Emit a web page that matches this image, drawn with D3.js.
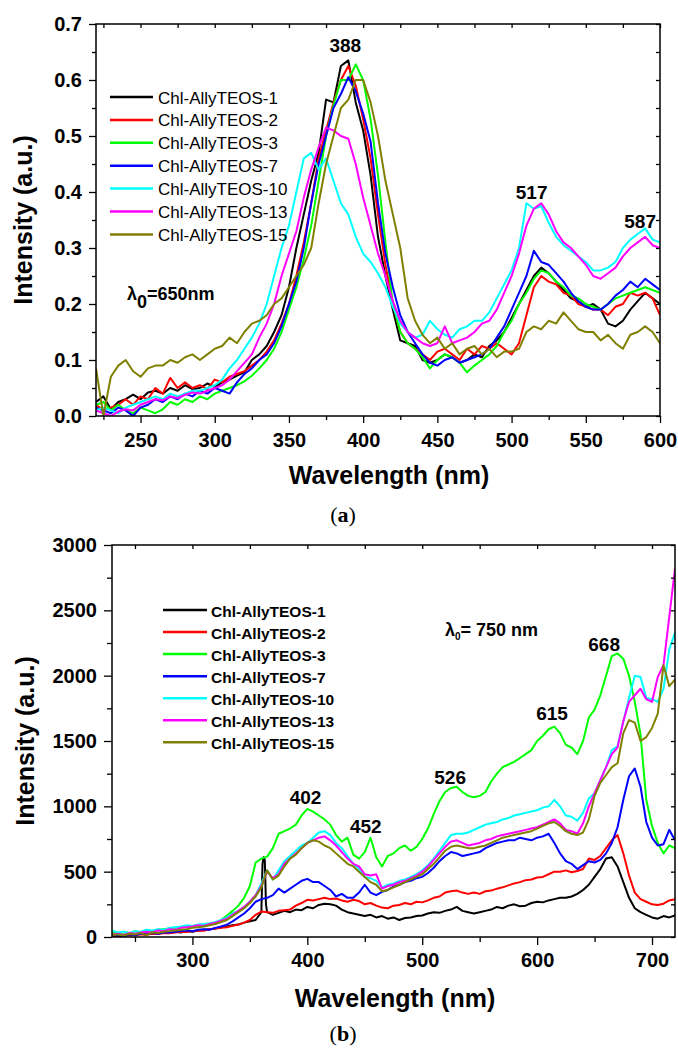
<!DOCTYPE html>
<html>
<head>
<meta charset="utf-8">
<script src="https://cdn.jsdelivr.net/npm/d3@7/dist/d3.min.js"></script>
<style>
  body { margin: 0; background: #fff; }
  svg { display: block; }
  text { font-family: "Liberation Sans", Arial, sans-serif; }
</style>
</head>
<body>
<svg id="chart" width="678" height="1048"></svg>
<script>
// =======================
// Data
// =======================
const seriesNames = ["Chl-AllyTEOS-1", "Chl-AllyTEOS-2", "Chl-AllyTEOS-3", "Chl-AllyTEOS-7",
  "Chl-AllyTEOS-10", "Chl-AllyTEOS-13", "Chl-AllyTEOS-15"];
const seriesColors = ["#000000", "#ff0000", "#00ff00", "#0000ff", "#00ffff", "#ff00ff", "#808000"];

// ---- panel (a), excitation 650 nm ----
const wavelengthA = [
  220, 225, 230, 235, 240, 245, 250, 255, 260, 265,
  270, 275, 280, 285, 290, 295, 300, 305, 310, 315,
  320, 325, 330, 335, 340, 345, 350, 355, 360, 365,
  370, 375, 380, 385, 390, 395, 400, 405, 410, 415,
  420, 425, 430, 435, 440, 445, 450, 455, 460, 465,
  470, 475, 480, 485, 490, 495, 500, 505, 510, 515,
  520, 525, 530, 535, 540, 545, 550, 555, 560, 565,
  570, 575, 580, 585, 590, 595, 600
];
const blackA = [
  0.025, 0.035, 0.012, 0.025, 0.03, 0.038, 0.03, 0.042, 0.045, 0.04,
  0.05, 0.045, 0.055, 0.048, 0.05, 0.058, 0.052, 0.06, 0.065, 0.072,
  0.078, 0.1, 0.11, 0.125, 0.15, 0.18, 0.23, 0.3, 0.36, 0.42,
  0.47, 0.565, 0.56, 0.625, 0.635, 0.56, 0.51, 0.43, 0.32, 0.25,
  0.19, 0.135, 0.13, 0.125, 0.1, 0.095, 0.1, 0.11, 0.105, 0.095,
  0.1, 0.11, 0.105, 0.125, 0.135, 0.15, 0.175, 0.2, 0.225, 0.25,
  0.265, 0.255, 0.24, 0.225, 0.21, 0.205, 0.195, 0.2, 0.19, 0.165,
  0.16, 0.17, 0.19, 0.205, 0.22, 0.21, 0.2
];
const redA = [
  0.02, 0.01, 0.015, 0.02, 0.03, 0.02, 0.035, 0.03, 0.05, 0.04,
  0.068, 0.05, 0.06, 0.05, 0.055, 0.048, 0.065, 0.06, 0.07, 0.075,
  0.08, 0.09, 0.1, 0.115, 0.135, 0.165, 0.2, 0.25, 0.31, 0.38,
  0.46, 0.51, 0.56, 0.6, 0.625, 0.59, 0.53, 0.46, 0.36, 0.27,
  0.2, 0.15, 0.13, 0.12, 0.11, 0.1, 0.115, 0.12, 0.11, 0.1,
  0.12, 0.11, 0.125, 0.12, 0.13, 0.12, 0.11, 0.13, 0.18, 0.23,
  0.25, 0.24, 0.235, 0.22, 0.215, 0.2, 0.195, 0.19, 0.19, 0.18,
  0.195, 0.2, 0.22, 0.215, 0.22, 0.21, 0.18
];
const greenA = [
  0.02, 0.025, 0.01, 0.02, 0.01, 0.005, 0.015, 0.01, 0.005, 0.012,
  0.025, 0.02, 0.03, 0.025, 0.035, 0.03, 0.04, 0.045, 0.05, 0.055,
  0.062, 0.072, 0.085, 0.1, 0.12, 0.15, 0.19, 0.23, 0.28, 0.34,
  0.42, 0.5, 0.555, 0.6, 0.6, 0.628, 0.6, 0.53, 0.43, 0.31,
  0.2, 0.15, 0.13, 0.12, 0.105, 0.085, 0.1, 0.11, 0.105, 0.095,
  0.078, 0.09, 0.1, 0.11, 0.125, 0.15, 0.17, 0.2, 0.22, 0.245,
  0.26, 0.255, 0.24, 0.23, 0.215, 0.21, 0.2, 0.195, 0.19, 0.2,
  0.21, 0.215, 0.22, 0.225, 0.23, 0.225, 0.22
];
const blueA = [
  0.015, 0.01, 0.005, 0.015, 0.01, 0.0, 0.015, 0.02, 0.03, 0.025,
  0.035, 0.03, 0.04, 0.035, 0.045, 0.04, 0.05, 0.045, 0.04, 0.06,
  0.075, 0.085, 0.1, 0.11, 0.13, 0.16, 0.2, 0.24, 0.3, 0.38,
  0.45, 0.5, 0.55, 0.575, 0.605, 0.58, 0.54, 0.49, 0.38, 0.29,
  0.23, 0.18, 0.15, 0.13, 0.11, 0.095, 0.09, 0.1, 0.105, 0.095,
  0.1, 0.105, 0.11, 0.12, 0.14, 0.16, 0.19, 0.22, 0.25, 0.295,
  0.275, 0.27, 0.255, 0.24, 0.22, 0.205, 0.195, 0.19, 0.19, 0.2,
  0.215, 0.225, 0.24, 0.23, 0.245, 0.235, 0.225
];
const cyanA = [
  0.01, 0.015, 0.01, 0.005, 0.015, 0.02, 0.025, 0.03, 0.035, 0.03,
  0.04, 0.035, 0.04, 0.045, 0.045, 0.05, 0.055, 0.065, 0.085, 0.1,
  0.12, 0.14, 0.165, 0.2, 0.25, 0.3, 0.34, 0.4, 0.46, 0.47,
  0.44, 0.46, 0.42, 0.38, 0.36, 0.32, 0.29, 0.275, 0.255, 0.23,
  0.195, 0.165, 0.15, 0.14, 0.145, 0.17, 0.155, 0.145, 0.14, 0.155,
  0.16, 0.17, 0.17, 0.185, 0.21, 0.235, 0.26, 0.3, 0.38, 0.37,
  0.375, 0.345, 0.32, 0.305, 0.295, 0.285, 0.275, 0.26, 0.26, 0.265,
  0.275, 0.3, 0.315, 0.325, 0.335, 0.315, 0.31
];
const magentaA = [
  0.01, 0.005, 0.0, 0.008, 0.012, 0.01, 0.02, 0.025, 0.03, 0.028,
  0.035, 0.032, 0.038, 0.042, 0.04, 0.045, 0.05, 0.055, 0.065, 0.08,
  0.095, 0.11, 0.14, 0.165, 0.2, 0.25, 0.29, 0.33, 0.39, 0.44,
  0.48, 0.515, 0.51, 0.5, 0.495, 0.45, 0.39, 0.34, 0.29, 0.25,
  0.205, 0.17, 0.15, 0.14, 0.13, 0.125, 0.13, 0.16, 0.13, 0.135,
  0.14, 0.15, 0.165, 0.17, 0.19, 0.22, 0.25, 0.29, 0.34, 0.37,
  0.38, 0.36, 0.33, 0.31, 0.3, 0.285, 0.27, 0.25, 0.245, 0.255,
  0.265, 0.285, 0.3, 0.31, 0.32, 0.305, 0.3
];
const oliveA = [
  0.085, 0.0, 0.07, 0.09, 0.1, 0.08, 0.07, 0.085, 0.09, 0.09,
  0.1, 0.095, 0.105, 0.11, 0.1, 0.11, 0.12, 0.125, 0.14, 0.13,
  0.15, 0.165, 0.17, 0.18, 0.2, 0.21, 0.23, 0.25, 0.27, 0.3,
  0.38, 0.45, 0.5, 0.55, 0.565, 0.6, 0.6, 0.56, 0.5, 0.42,
  0.36, 0.3, 0.21, 0.17, 0.145, 0.13, 0.14, 0.12, 0.13, 0.11,
  0.12, 0.125, 0.11, 0.12, 0.105, 0.115, 0.115, 0.12, 0.15, 0.16,
  0.155, 0.17, 0.165, 0.185, 0.17, 0.155, 0.15, 0.15, 0.135, 0.145,
  0.13, 0.12, 0.145, 0.15, 0.16, 0.15, 0.13
];
const xTicksA = [250, 300, 350, 400, 450, 500, 550, 600];
const xMinorA = [225, 275, 325, 375, 425, 475, 525, 575];
const yTicksA = [0, 0.1, 0.2, 0.3, 0.4, 0.5, 0.6, 0.7];
const yMinorA = [0.05, 0.15, 0.25, 0.35, 0.45, 0.55, 0.65];
const peakLabelsA = ["388", "517", "587"];

// ---- panel (b), excitation 750 nm ----
const wavelengthB = [
  230, 235, 240, 245, 250, 255, 260, 265, 270, 275,
  280, 285, 290, 295, 300, 305, 310, 315, 320, 325,
  330, 335, 340, 345, 350, 355, 360, 365, 370, 375,
  380, 385, 390, 395, 400, 405, 410, 415, 420, 425,
  430, 435, 440, 445, 450, 455, 460, 465, 470, 475,
  480, 485, 490, 495, 500, 505, 510, 515, 520, 525,
  530, 535, 540, 545, 550, 555, 560, 565, 570, 575,
  580, 585, 590, 595, 600, 605, 610, 615, 620, 625,
  630, 635, 640, 645, 650, 655, 660, 665, 670, 675,
  680, 685, 690, 695, 700, 705, 710, 715, 720
];
const blackB = [
  10, 15, 5, 20, 15, 25, 20, 30, 25, 35,
  30, 40, 35, 45, 40, 50, 55, 60, 65, 75,
  80, 90, 95, 110, 120, 130, 190, 190, 170, 185,
  200, 190, 210, 205, 230, 220, 245, 255, 250, 240,
  210, 190, 180, 170, 160, 170, 150, 160, 140, 150,
  130, 145, 150, 160, 165, 180, 190, 185, 200, 210,
  230, 200, 190, 180, 190, 200, 210, 230, 220, 240,
  250, 235, 240, 260, 270, 265, 280, 290, 300, 300,
  310, 330, 360, 400, 460, 520, 600, 610, 540, 420,
  300, 220, 190, 170, 150, 140, 160, 150, 165
];
// narrow spike of sample 1 near 362 nm
const spikeWavelengthB = [361, 362, 363, 364];
const spikeBlackB = [560, 610, 590, 250];
const redB = [
  5, 10, 8, 15, 12, 20, 18, 25, 22, 30,
  28, 35, 40, 38, 45, 50, 48, 60, 65, 70,
  75, 85, 95, 110, 130, 170, 195, 190, 185, 200,
  205, 210, 240, 260, 285, 280, 290, 300, 290, 295,
  280, 270, 285, 275, 250, 260, 240, 225, 220, 240,
  245, 260, 250, 270, 265, 280, 300, 310, 340, 350,
  355, 340, 330, 340, 330, 350, 355, 370, 380, 395,
  410, 420, 435, 440, 455, 460, 480, 500, 500, 510,
  495, 505, 520, 600, 590, 620, 680, 740, 780, 640,
  470, 340, 290, 270, 250, 245, 255, 280, 290
];
const greenB = [
  40, 20, 35, 30, 45, 35, 50, 45, 55, 60,
  65, 70, 75, 80, 85, 90, 95, 100, 105, 130,
  165, 200, 240, 300, 390, 570, 600, 615, 680, 790,
  810, 830, 860, 930, 980, 960, 930, 900, 860, 780,
  730, 760, 630, 600, 650, 760, 610, 540, 620, 640,
  680, 700, 660, 690, 750, 830, 940, 1040, 1110, 1140,
  1150, 1110, 1080, 1070, 1080, 1110, 1190, 1250, 1300, 1320,
  1340, 1370, 1400, 1430, 1500, 1540, 1590, 1610, 1560, 1470,
  1450, 1400, 1500, 1680, 1740, 1850, 2000, 2150, 2170, 2130,
  2000, 1800, 1550, 1050, 850, 720, 640, 700, 680
];
const blueB = [
  10, 15, 5, 20, 15, 25, 20, 30, 25, 35,
  35, 40, 45, 50, 45, 55, 60, 55, 70, 80,
  95, 120, 150, 180, 220, 270, 290, 300, 320, 370,
  340, 370, 400, 430, 445, 420, 420, 390, 360, 310,
  330, 300, 300, 340, 400, 340, 320, 345, 360, 385,
  400, 420, 430, 450, 460, 490, 530, 580, 620, 650,
  640, 620, 630, 640, 650, 680, 700, 720, 730, 740,
  740, 760, 750, 740, 760, 770, 790, 720, 640, 580,
  560, 520, 550, 580, 570, 590, 640, 720, 840, 1050,
  1230, 1290, 1150, 880, 760, 700, 710, 820, 740
];
const cyanB = [
  50, 35, 40, 30, 45, 40, 55, 50, 60, 55,
  70, 75, 80, 90, 85, 95, 100, 105, 115, 130,
  150, 180, 200, 230, 270, 320, 410, 510, 440, 510,
  580, 620, 660, 700, 720, 760, 800, 810, 780, 720,
  680, 620, 560, 520, 460, 450, 430, 380, 400, 410,
  430, 440, 460, 480, 510, 550, 600, 660, 720, 780,
  790, 790, 800, 820, 840, 860, 870, 880, 900, 910,
  930, 940, 950, 960, 970, 990, 1000, 1050, 1000, 930,
  920, 890, 950, 1060, 1100, 1200, 1300, 1430, 1460, 1650,
  1830, 2000, 1990, 1830, 1820, 1800, 1900, 2200, 2330
];
const magentaB = [
  20, 25, 15, 30, 25, 35, 40, 35, 50, 45,
  60, 55, 70, 75, 80, 90, 85, 100, 110, 125,
  140, 170, 200, 230, 270, 320, 390, 500, 450, 480,
  560, 600, 640, 680, 720, 740, 760, 770, 740, 700,
  650, 600, 560, 540, 480, 470, 480, 370, 390, 400,
  420, 430, 450, 470, 500, 540, 590, 640, 690, 730,
  740, 720, 700, 710, 720, 740, 750, 770, 780, 790,
  800, 810, 820, 830, 840, 860, 880, 900, 870, 820,
  810, 790, 870, 1000, 1100, 1200, 1300, 1400, 1450, 1650,
  1800, 1850, 1900, 1820, 1800, 1990, 2080, 2450, 2820
];
const oliveB = [
  15, 20, 10, 25, 20, 30, 15, 35, 30, 40,
  45, 50, 55, 60, 70, 75, 80, 90, 100, 115,
  130, 160, 190, 220, 260, 310, 380, 510, 440, 470,
  540, 600, 630, 680, 720, 740, 730, 700, 680, 640,
  600, 560, 540, 500, 460, 420, 400, 350, 360, 380,
  400, 420, 440, 460, 480, 520, 560, 610, 660, 690,
  700, 690, 680, 680, 690, 700, 720, 740, 760, 770,
  780, 790, 800, 810, 830, 850, 870, 880, 850, 810,
  790, 780, 800, 900, 1080, 1180, 1240, 1300, 1330, 1560,
  1660, 1640, 1500, 1530, 1600, 1710, 2080, 1920, 1970
];
const xTicksB = [300, 400, 500, 600, 700];
const xMinorB = [250, 350, 450, 550, 650];
const yTicksB = [0, 500, 1000, 1500, 2000, 2500, 3000];
const yMinorB = [250, 750, 1250, 1750, 2250, 2750];
const peakLabelsB = ["402", "452", "526", "615", "668"];

// =======================
// Setup
// =======================
const svg = d3.select("#chart");
const FONT = '"Liberation Sans", Arial, sans-serif';

const panels = [
  {
    id: "a",
    left: 96, right: 660, top: 24, bottom: 416,
    xDomain: [220, 600], yDomain: [0, 0.7],
    wl: wavelengthA,
    series: [blackA, redA, greenA, blueA, cyanA, magentaA, oliveA],
    extra: [],
    xTicks: xTicksA, xMinor: xMinorA, yTicks: yTicksA, yMinor: yMinorA,
    yFormat: d3.format(".1f"),
    majorLen: 7, minorLen: 4, xPad: 10, yPad: 7,
    xTitle: { x: 389, y: 484 },
    yTitle: { x: 32, y: 220 },
    panelLabel: { text: "a", x: 343, y: 522 },
    legend: { x1: 110, x2: 153, tx: 158, y0: 97, dy: 22.9, size: 17, weight: "normal" },
    peaks: peakLabelsA,
    // label anchor, in data units
    peakPos: [[388, 0.65], [513.5, 0.388], [586.6, 0.336]],
    lambda: { x: 127, y: 300, rest: "=650nm", subSize: 18, subDy: 8, size: 18 }
  },
  {
    id: "b",
    left: 112, right: 675, top: 545, bottom: 937,
    xDomain: [230, 720], yDomain: [0, 3000],
    wl: wavelengthB,
    series: [blackB, redB, greenB, blueB, cyanB, magentaB, oliveB],
    extra: [spikeWavelengthB.map((w, i) => [w, spikeBlackB[i]])],
    xTicks: xTicksB, xMinor: xMinorB, yTicks: yTicksB, yMinor: yMinorB,
    yFormat: d3.format("d"),
    majorLen: 8, minorLen: 5, xPad: 8, yPad: 7,
    xTitle: { x: 395, y: 1007 },
    yTitle: { x: 34, y: 741 },
    panelLabel: { text: "b", x: 343, y: 1041 },
    legend: { x1: 163, x2: 207, tx: 211, y0: 610, dy: 22.05, size: 15.5, weight: "bold" },
    peaks: peakLabelsB,
    peakPos: [[398.4, 1018], [450.9, 796], [524.3, 1171], [613, 1660], [658.3, 2189]],
    lambda: { x: 445, y: 636, rest: "= 750 nm", subSize: 10, subDy: 4, size: 18 }
  }
];

// =======================
// Draw one panel
// =======================
function styleAxis(sel, size) {
  sel.select(".domain").remove();
  sel.selectAll(".tick line").attr("stroke", "#000").attr("stroke-width", 1.3);
  sel.selectAll(".tick text")
    .attr("fill", "#000")
    .style("font-family", FONT)
    .style("font-size", size + "px")
    .style("font-weight", "bold");
}

function drawPanel(p) {
  const g = svg.append("g").attr("class", "panel-" + p.id);
  const x = d3.scaleLinear().domain(p.xDomain).range([p.left, p.right]);
  const y = d3.scaleLinear().domain(p.yDomain).range([p.bottom, p.top]);

  const clipId = "clip-" + p.id;
  svg.append("defs").append("clipPath").attr("id", clipId)
    .append("rect")
    .attr("x", p.left).attr("y", p.top)
    .attr("width", p.right - p.left).attr("height", p.bottom - p.top);

  // spectra
  const line = d3.line().x(d => x(d[0])).y(d => y(d[1]));
  const lines = g.append("g").attr("clip-path", `url(#${clipId})`);
  p.series.forEach((vals, i) => {
    let pts = p.wl.map((w, k) => [w, vals[k]]);
    if (p.extra[i]) pts = pts.concat(p.extra[i]).sort((a, b) => a[0] - b[0]);
    lines.append("path")
      .attr("d", line(pts))
      .attr("fill", "none")
      .attr("stroke", seriesColors[i])
      .attr("stroke-width", 2)
      .attr("stroke-linejoin", "round");
  });

  // axes: outward ticks bottom/left, inward ticks top/right
  const bottom = g.append("g").attr("transform", `translate(0,${p.bottom})`)
    .call(d3.axisBottom(x).tickValues(p.xTicks).tickSize(p.majorLen).tickPadding(p.xPad).tickFormat(d3.format("d")));
  styleAxis(bottom, 20);
  const bottomMinor = g.append("g").attr("transform", `translate(0,${p.bottom})`)
    .call(d3.axisBottom(x).tickValues(p.xMinor).tickSize(p.minorLen).tickFormat(""));
  styleAxis(bottomMinor, 20);

  const left = g.append("g").attr("transform", `translate(${p.left},0)`)
    .call(d3.axisLeft(y).tickValues(p.yTicks).tickSize(p.majorLen).tickPadding(p.yPad).tickFormat(p.yFormat));
  styleAxis(left, 20);
  const leftMinor = g.append("g").attr("transform", `translate(${p.left},0)`)
    .call(d3.axisLeft(y).tickValues(p.yMinor).tickSize(p.minorLen).tickFormat(""));
  styleAxis(leftMinor, 20);

  const top = g.append("g").attr("transform", `translate(0,${p.top})`)
    .call(d3.axisTop(x).tickValues(p.xTicks.concat(p.xMinor)).tickSize(-4).tickFormat(""));
  styleAxis(top, 20);
  const right = g.append("g").attr("transform", `translate(${p.right},0)`)
    .call(d3.axisRight(y).tickValues(p.yTicks.concat(p.yMinor)).tickSize(-4).tickFormat(""));
  styleAxis(right, 20);

  g.append("rect")
    .attr("x", p.left).attr("y", p.top)
    .attr("width", p.right - p.left).attr("height", p.bottom - p.top)
    .attr("fill", "none").attr("stroke", "#000").attr("stroke-width", 1.5);

  // axis titles
  g.append("text")
    .attr("x", p.xTitle.x).attr("y", p.xTitle.y)
    .attr("text-anchor", "middle")
    .style("font-size", "25px").style("font-weight", "bold")
    .text("Wavelength (nm)");
  g.append("text")
    .attr("transform", `translate(${p.yTitle.x},${p.yTitle.y}) rotate(-90)`)
    .attr("text-anchor", "middle")
    .style("font-size", "25px").style("font-weight", "bold")
    .text("Intensity (a.u.)");

  // panel label "(a)" / "(b)"
  const pl = g.append("text")
    .attr("x", p.panelLabel.x).attr("y", p.panelLabel.y)
    .attr("text-anchor", "middle")
    .style("font-family", '"Liberation Serif", "Times New Roman", serif')
    .style("font-size", "22px");
  pl.append("tspan").text("(");
  pl.append("tspan").style("font-weight", "bold").text(p.panelLabel.text);
  pl.append("tspan").text(")");

  // legend
  const lg = g.append("g");
  seriesNames.forEach((name, i) => {
    const ly = p.legend.y0 + i * p.legend.dy;
    lg.append("line")
      .attr("x1", p.legend.x1).attr("x2", p.legend.x2)
      .attr("y1", ly).attr("y2", ly)
      .attr("stroke", seriesColors[i]).attr("stroke-width", 2.5);
    lg.append("text")
      .attr("x", p.legend.tx).attr("y", ly + 6.5)
      .style("font-size", p.legend.size + "px")
      .style("font-weight", p.legend.weight)
      .text(name);
  });

  // peak labels
  p.peaks.forEach((lab, i) => {
    g.append("text")
      .attr("x", x(p.peakPos[i][0])).attr("y", y(p.peakPos[i][1]))
      .attr("text-anchor", "middle")
      .style("font-size", "19px").style("font-weight", "bold")
      .text(lab);
  });

  // excitation wavelength note
  const lt = g.append("text")
    .attr("x", p.lambda.x).attr("y", p.lambda.y)
    .style("font-size", p.lambda.size + "px").style("font-weight", "bold");
  lt.append("tspan").text("λ");
  lt.append("tspan").attr("dy", p.lambda.subDy).style("font-size", p.lambda.subSize + "px").text("0");
  lt.append("tspan").attr("dy", -p.lambda.subDy).text(p.lambda.rest);
}

panels.forEach(drawPanel);
</script>
</body>
</html>
